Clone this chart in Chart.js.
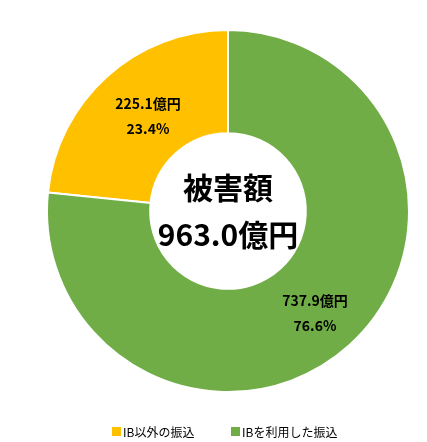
<!DOCTYPE html>
<html><head><meta charset="utf-8">
<script src="https://cdn.jsdelivr.net/npm/chart.js@4"></script>
<style>body{margin:0;background:#fff}#w{width:427px;height:442px}</style>
</head><body><div id="w"><canvas id="c"></canvas></div>
<script>
const categories = ["IB以外の振込", "IBを利用した振込"];
const values = [225.1, 737.9];
const percents = ["23.4%", "76.6%"];
const valueLabels = ["225.1億円", "737.9億円"];
const colors = ["#FFC000", "#70AD47"];
const total = "963.0億円";
const F = '"Noto Sans CJK JP","Liberation Sans",sans-serif';
const sum = values.reduce((a,b)=>a+b,0);
const labelPlugin = {
  id:'lbl',
  afterDraw(chart){
    const ctx = chart.ctx;
    const meta = chart.getDatasetMeta(0);
    ctx.save();
    ctx.textAlign='center'; ctx.textBaseline='middle'; ctx.fillStyle='#000';
    const arc0 = meta.data[0];
    const cx = arc0.x, cy = arc0.y;
    ctx.font = 'bold 30px '+F;
    ctx.fillText('被害額', cx, cy-23);
    ctx.fillText(total, cx, cy+24);
    const offs = [[-80,-95],[87,102]];
    meta.data.forEach((a,i)=>{
      ctx.font='bold 14px '+F;
      ctx.fillText(valueLabels[i], cx+offs[i][0], cy+offs[i][1]-12);
      ctx.fillText(percents[i], cx+offs[i][0], cy+offs[i][1]+13);
    });
    ctx.font='12px '+F; ctx.textAlign='left';
    const lx=[112,231];
    categories.forEach((c,i)=>{
      ctx.fillStyle=colors[i]; ctx.fillRect(lx[i],427,9,9);
      ctx.fillStyle='#000'; ctx.fillText(c, lx[i]+11, 432);
    });
    ctx.restore();
  }
};
new Chart(document.getElementById('c'),{
  type:'doughnut',
  data:{labels:categories,datasets:[{data:values,backgroundColor:colors,borderColor:'#fff',borderWidth:2}]},
  options:{
    responsive:true,maintainAspectRatio:false,animation:false,
    rotation: 360*values[1]/sum,
    cutout:'43%',
    layout:{padding:{top:29,bottom:49,left:29}},
    plugins:{legend:{display:false},tooltip:{enabled:false}}
  },
  plugins:[labelPlugin]
});
</script></body></html>
